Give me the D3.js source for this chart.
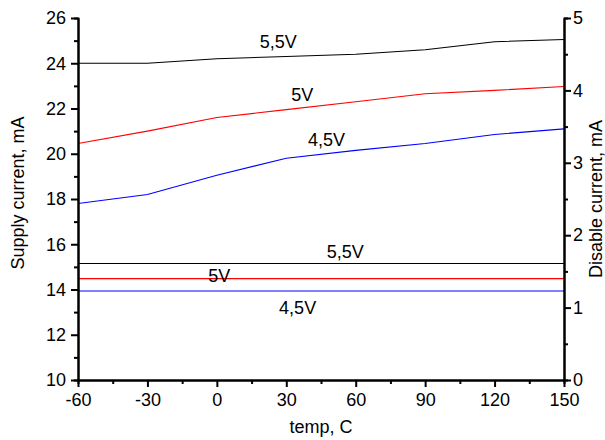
<!DOCTYPE html>
<html>
<head>
<meta charset="utf-8">
<script src="https://cdn.jsdelivr.net/npm/d3@7"></script>
<style>
  html, body { margin: 0; padding: 0; background: #fff; }
  svg { display: block; font-family: "Liberation Sans", Arial, sans-serif; }
</style>
</head>
<body>
<svg id="chart" width="605" height="440"></svg>
<script>
// Temperatures (°C)
const temps = [-60, -30, 0, 30, 60, 90, 120, 150];

// Supply current (mA), left axis
const supply55 = [24.0, 24.0, 24.2, 24.3, 24.4, 24.6, 24.95, 25.05];
const supply50 = [20.45, 21.0, 21.6, 21.95, 22.3, 22.65, 22.8, 22.97];
const supply45 = [17.8, 18.2, 19.05, 19.8, 20.15, 20.45, 20.85, 21.1];

// Disable current (mA), right axis
const disable55 = [1.61, 1.61, 1.61, 1.61, 1.61, 1.61, 1.61, 1.61];
const disable50 = [1.40, 1.40, 1.40, 1.40, 1.40, 1.40, 1.40, 1.40];
const disable45 = [1.23, 1.23, 1.23, 1.23, 1.23, 1.23, 1.23, 1.23];

// Tick values
const xTicks = [-60, -30, 0, 30, 60, 90, 120, 150];
const xMinor = [-45, -15, 15, 45, 75, 105, 135];
const yLeftTicks = [10, 12, 14, 16, 18, 20, 22, 24, 26];
const yLeftMinor = [11, 13, 15, 17, 19, 21, 23, 25];
const yRightTicks = [0, 1, 2, 3, 4, 5];
const yRightMinor = [0.5, 1.5, 2.5, 3.5, 4.5];

// Series labels: [text, temp, supply-scale value]
const labelText = ["5,5V", "5V", "4,5V", "5,5V", "5V", "4,5V"];
const labelTemp = [26.5, 36.9, 47.4, 55.5, 1.0, 34.9];
const labelVal = [24.66, 22.33, 20.34, 15.39, 14.32, 12.9];

const svg = d3.select("#chart");
const L = 78, R = 564, T = 18, B = 380;

const x = d3.scaleLinear().domain([-60, 150]).range([L, R]);
const yL = d3.scaleLinear().domain([10, 26]).range([B, T]);
const yR = d3.scaleLinear().domain([0, 5]).range([B, T]);

const fontSize = 18;
const plain = d => String(d);   // hyphen-minus, no decimals

function styleAxis(g) {
  g.select(".domain").attr("stroke", "#000").attr("stroke-width", 2);
  g.selectAll(".tick line").attr("stroke", "#000").attr("stroke-width", 2);
  g.selectAll(".tick text").attr("fill", "#000")
    .style("font-size", fontSize + "px")
    .style("font-family", '"Liberation Sans", Arial, sans-serif');
}

// Data lines
const series = [
  { v: supply55, s: yL, c: "#000" },
  { v: supply50, s: yL, c: "#ff0000" },
  { v: supply45, s: yL, c: "#0000ff" },
  { v: disable55, s: yR, c: "#000" },
  { v: disable50, s: yR, c: "#ff0000" },
  { v: disable45, s: yR, c: "#0000ff" }
];
series.forEach(d => {
  const line = d3.line().x((t, i) => x(temps[i])).y((t, i) => d.s(d.v[i]));
  svg.append("path")
    .attr("d", line(temps))
    .attr("fill", "none")
    .attr("stroke", d.c)
    .attr("stroke-width", 1.1);
});

// Minor ticks
const gx = svg.append("g").attr("transform", `translate(0,${B})`)
  .call(d3.axisBottom(x).tickValues(xMinor).tickSize(4).tickFormat(""));
styleAxis(gx);
const gyl = svg.append("g").attr("transform", `translate(${L},0)`)
  .call(d3.axisLeft(yL).tickValues(yLeftMinor).tickSize(4).tickFormat(""));
styleAxis(gyl);
const gyr = svg.append("g").attr("transform", `translate(${R},0)`)
  .call(d3.axisRight(yR).tickValues(yRightMinor).tickSize(4).tickFormat(""));
styleAxis(gyr);

// Major axes
const ax = svg.append("g").attr("transform", `translate(0,${B})`)
  .call(d3.axisBottom(x).tickValues(xTicks).tickFormat(plain)
    .tickSize(7).tickSizeOuter(0).tickPadding(6));
styleAxis(ax);
const ayl = svg.append("g").attr("transform", `translate(${L},0)`)
  .call(d3.axisLeft(yL).tickValues(yLeftTicks).tickFormat(plain)
    .tickSize(7).tickSizeOuter(0).tickPadding(5));
styleAxis(ayl);
const ayr = svg.append("g").attr("transform", `translate(${R},0)`)
  .call(d3.axisRight(yR).tickValues(yRightTicks).tickFormat(plain)
    .tickSize(7).tickSizeOuter(0).tickPadding(2));
styleAxis(ayr);

// Series labels
labelText.forEach((t, i) => {
  svg.append("text")
    .attr("x", x(labelTemp[i]))
    .attr("y", yL(labelVal[i]))
    .attr("text-anchor", "middle")
    .style("font-size", "18px")
    .attr("fill", "#000")
    .text(t);
});

// Axis titles
svg.append("text")
  .attr("x", (L + R) / 2).attr("y", 433)
  .attr("text-anchor", "middle")
  .style("font-size", "18px")
  .text("temp, C");
svg.append("text")
  .attr("transform", `translate(24,${(T + B) / 2 - 6}) rotate(-90)`)
  .attr("text-anchor", "middle")
  .style("font-size", "18px")
  .text("Supply current, mA");
svg.append("text")
  .attr("transform", `translate(602,${(T + B) / 2}) rotate(-90)`)
  .attr("text-anchor", "middle")
  .style("font-size", "18px")
  .text("Disable current, mA");
</script>
</body>
</html>
